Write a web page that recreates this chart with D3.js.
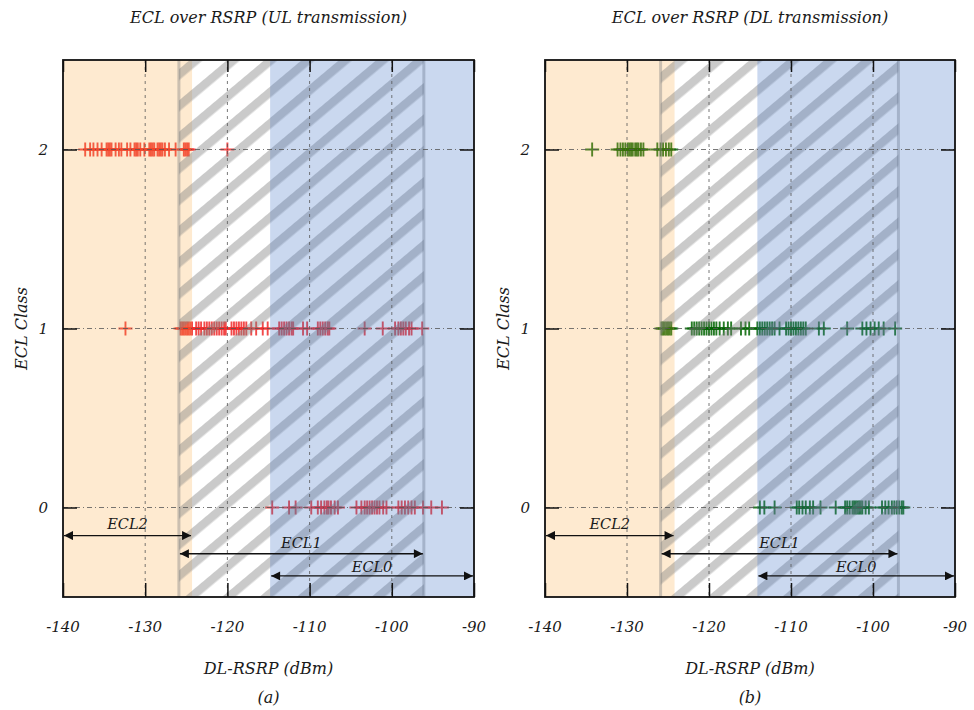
<!DOCTYPE html>
<html><head><meta charset="utf-8">
<script src="https://cdn.jsdelivr.net/npm/d3@7"></script>
<style>
body{margin:0;background:#fff}
text{font-family:"DejaVu Serif","Liberation Serif",serif;font-style:italic;fill:#1a1a1a}
</style></head>
<body><svg id="c" width="974" height="710"></svg>
<script>
// ---------- data ----------
const xTicks = [-140, -130, -120, -110, -100, -90];
const yTicks = [0, 1, 2];
const panelTitles = ["ECL over RSRP (UL transmission)", "ECL over RSRP (DL transmission)"];
const subCaptions = ["(a)", "(b)"];
const ulClass2 = [-137.3,-136.7,-136.3,-135.8,-135.3,-134.7,-134.5,-134.3,-134.1,-133.6,-133.2,-132.9,-132.2,-131.8,-131.3,-131.1,-130.9,-130.6,-130.1,-129.5,-129.3,-129.1,-128.9,-128.5,-128.3,-128.1,-127.9,-127.6,-127.1,-126.3,-125.3,-125.1,-124.9,-124.7,-120.0];
const ulClass1 = [-132.4,-125.7,-125.5,-125.3,-125.1,-124.9,-124.7,-124.5,-124.3,-123.8,-123.5,-123.2,-122.8,-122.5,-122.2,-121.9,-121.6,-121.3,-121.0,-120.7,-120.4,-120.2,-119.5,-119.2,-118.9,-118.6,-118.3,-118.0,-117.7,-117.1,-116.5,-115.7,-115.1,-113.7,-113.4,-113.1,-112.8,-112.5,-112.2,-112.0,-110.8,-110.3,-109.0,-108.7,-108.4,-108.1,-107.8,-107.6,-103.3,-101.1,-99.6,-99.2,-98.9,-98.6,-98.3,-97.9,-97.6,-96.3];
const ulClass0 = [-114.55,-112.5,-111.7,-109.8,-109.0,-108.6,-108.2,-107.9,-107.7,-107.4,-106.95,-106.55,-104.3,-103.7,-103.3,-103.0,-102.7,-102.4,-102.1,-101.8,-101.5,-101.05,-100.65,-99.2,-98.8,-98.4,-98.0,-97.6,-97.2,-96.2,-95.2,-93.9];
const dlClass2 = [-134.25,-131.15,-130.8,-130.5,-130.2,-129.9,-129.7,-129.5,-129.3,-129.0,-128.8,-128.6,-128.3,-128.0,-126.3,-125.9,-125.6,-125.25,-124.9,-124.6];
const dlClass1 = [-125.8,-125.6,-125.4,-125.2,-125.0,-124.8,-124.6,-122.1,-121.8,-121.5,-121.2,-120.9,-120.6,-120.3,-120.0,-119.7,-119.4,-119.1,-118.7,-118.2,-117.7,-117.3,-116.1,-115.55,-115.1,-114.1,-113.8,-113.5,-113.2,-112.9,-112.6,-112.3,-112.0,-111.4,-110.6,-110.3,-110.0,-109.7,-109.4,-109.1,-108.8,-108.5,-108.2,-106.6,-106.0,-103.15,-101.3,-100.8,-100.3,-99.8,-99.3,-98.7,-97.3];
const dlClass0 = [-113.8,-113.25,-112.0,-109.3,-109.0,-108.6,-108.2,-107.7,-107.3,-106.4,-104.55,-103.4,-103.15,-102.85,-102.5,-102.3,-102.1,-101.9,-101.7,-101.5,-101.3,-100.9,-100.5,-98.9,-98.5,-98.1,-97.7,-97.4,-97.1,-96.8,-96.5,-96.3];
// ECL region bounds [orangeEnd(ECL2 upper), hatchStart(ECL1 lower), hatchEnd(ECL1 upper), blueStart(ECL0 lower)]
const ulBounds = [-124.3, -125.9, -96.1, -114.8];
const dlBounds = [-124.2, -125.9, -96.9, -114.1];
const eclLabels = ["ECL2", "ECL1", "ECL0"];

// ---------- layout ----------
const svg = d3.select("#c");
const yTop = 60, yBot = 597;
const panels = [
  {x0: 63, x1: 474, title: panelTitles[0], cap: subCaptions[0], color: "#f02a2a", series: [ulClass0, ulClass1, ulClass2], b: ulBounds},
  {x0: 545, x1: 955, title: panelTitles[1], cap: subCaptions[1], color: "#006400", series: [dlClass0, dlClass1, dlClass2], b: dlBounds}
];

const defs = svg.append("defs");
const pat = defs.append("pattern").attr("id", "hatch").attr("patternUnits", "userSpaceOnUse")
  .attr("width", 24).attr("height", 24).attr("patternTransform", "rotate(-40)");
pat.append("rect").attr("x", 0).attr("y", 0).attr("width", 24).attr("height", 8.5).attr("fill", "#808080").attr("fill-opacity", 0.42);

defs.append("marker").attr("id", "arr").attr("viewBox", "0 0 10 10").attr("refX", 10).attr("refY", 5)
  .attr("markerWidth", 10).attr("markerHeight", 9).attr("markerUnits", "userSpaceOnUse").attr("orient", "auto-start-reverse")
  .append("path").attr("d", "M0,0L10,5L0,10Z").attr("fill", "#111");

panels.forEach((p, pi) => {
  const x = d3.scaleLinear().domain([-140, -90]).range([p.x0, p.x1]);
  const y = d3.scaleLinear().domain([-0.5, 2.5]).range([yBot, yTop]);
  const g = svg.append("g");
  const [oEnd, hS, hE, bS] = p.b;

  // points
  p.series.forEach((vals, cls) => {
    g.append("g").selectAll("path").data(vals).join("path")
      .attr("transform", d => `translate(${x(d)},${y(cls)})`)
      .attr("d", "M-7,0H7M0,-7V7")
      .attr("stroke", p.color).attr("stroke-width", 1.9).attr("stroke-opacity", 0.85).attr("fill", "none");
  });

  // regions
  g.append("rect").attr("x", x(-140)).attr("y", yTop).attr("width", x(oEnd) - x(-140)).attr("height", yBot - yTop)
    .attr("fill", "#fc9e2a").attr("fill-opacity", 0.22);
  g.append("rect").attr("x", x(hS)).attr("y", yTop).attr("width", x(hE) - x(hS)).attr("height", yBot - yTop)
    .attr("fill", "url(#hatch)");
  [hS, hE].forEach(v => g.append("line").attr("x1", x(v)).attr("x2", x(v)).attr("y1", yTop).attr("y2", yBot)
    .attr("stroke", "#808080").attr("stroke-opacity", 0.4).attr("stroke-width", 3));
  g.append("rect").attr("x", x(bS)).attr("y", yTop).attr("width", x(-90) - x(bS)).attr("height", yBot - yTop)
    .attr("fill", "#3a6fc4").attr("fill-opacity", 0.27);

  // grid
  xTicks.slice(1, -1).forEach(t => g.append("line").attr("x1", x(t)).attr("x2", x(t)).attr("y1", yTop).attr("y2", yBot)
    .attr("stroke", "#555").attr("stroke-width", 0.8).attr("stroke-dasharray", "3,4"));
  yTicks.forEach(t => g.append("line").attr("x1", p.x0).attr("x2", p.x1).attr("y1", y(t)).attr("y2", y(t))
    .attr("stroke", "#555").attr("stroke-width", 0.8).attr("stroke-dasharray", "5,3,1,3"));

  // axes (inward ticks)
  const axB = g.append("g").attr("transform", `translate(0,${yBot})`)
    .call(d3.axisTop(x).tickValues(xTicks).tickSize(14).tickFormat(""));
  const axT = g.append("g").attr("transform", `translate(0,${yTop})`)
    .call(d3.axisBottom(x).tickValues(xTicks).tickSize(12).tickFormat(""));
  const axL = g.append("g").attr("transform", `translate(${p.x0},0)`)
    .call(d3.axisRight(y).tickValues(yTicks).tickSize(14).tickFormat(""));
  const axR = g.append("g").attr("transform", `translate(${p.x1},0)`)
    .call(d3.axisLeft(y).tickValues(yTicks).tickSize(14).tickFormat(""));
  [axB, axT, axL, axR].forEach(a => { a.select(".domain").remove(); a.selectAll("line").attr("stroke", "#111").attr("stroke-width", 1.5); });
  g.append("rect").attr("x", p.x0).attr("y", yTop).attr("width", p.x1 - p.x0).attr("height", yBot - yTop)
    .attr("fill", "none").attr("stroke", "#111").attr("stroke-width", 1.8);

  // tick labels
  g.selectAll(".xt").data(xTicks).join("text").attr("x", d => x(d)).attr("y", 632)
    .attr("text-anchor", "middle").attr("font-size", 15).text(d => d);
  g.selectAll(".yt").data(yTicks).join("text").attr("x", p.x0 - 15).attr("y", d => y(d) + 5)
    .attr("text-anchor", "end").attr("font-size", 15).text(d => d);

  // arrows
  const arrows = [
    {lab: eclLabels[0], a: -140, b: oEnd, yv: -0.157, ly: -0.09},
    {lab: eclLabels[1], a: hS, b: hE, yv: -0.258, ly: -0.2},
    {lab: eclLabels[2], a: bS, b: -90, yv: -0.382, ly: -0.33}
  ];
  arrows.forEach(ar => {
    g.append("line").attr("x1", x(ar.a) + 1).attr("x2", x(ar.b) - 1).attr("y1", y(ar.yv)).attr("y2", y(ar.yv))
      .attr("stroke", "#111").attr("stroke-width", 1.4)
      .attr("marker-start", "url(#arr)").attr("marker-end", "url(#arr)");
    g.append("text").attr("x", (x(ar.a) + x(ar.b)) / 2).attr("y", y(ar.ly) + 5)
      .attr("text-anchor", "middle").attr("font-size", 14.5).text(ar.lab);
  });

  // titles and labels
  const cx = (p.x0 + p.x1) / 2;
  g.append("text").attr("x", cx).attr("y", 23).attr("text-anchor", "middle").attr("font-size", 16).text(p.title);
  g.append("text").attr("x", cx).attr("y", 674).attr("text-anchor", "middle").attr("font-size", 16).text("DL-RSRP (dBm)");
  g.append("text").attr("x", cx).attr("y", 703).attr("text-anchor", "middle").attr("font-size", 16).text(p.cap);
  g.append("text").attr("transform", `translate(${p.x0 - 36},${(yTop + yBot) / 2}) rotate(-90)`)
    .attr("text-anchor", "middle").attr("font-size", 16).text("ECL Class");
});
</script></body></html>
